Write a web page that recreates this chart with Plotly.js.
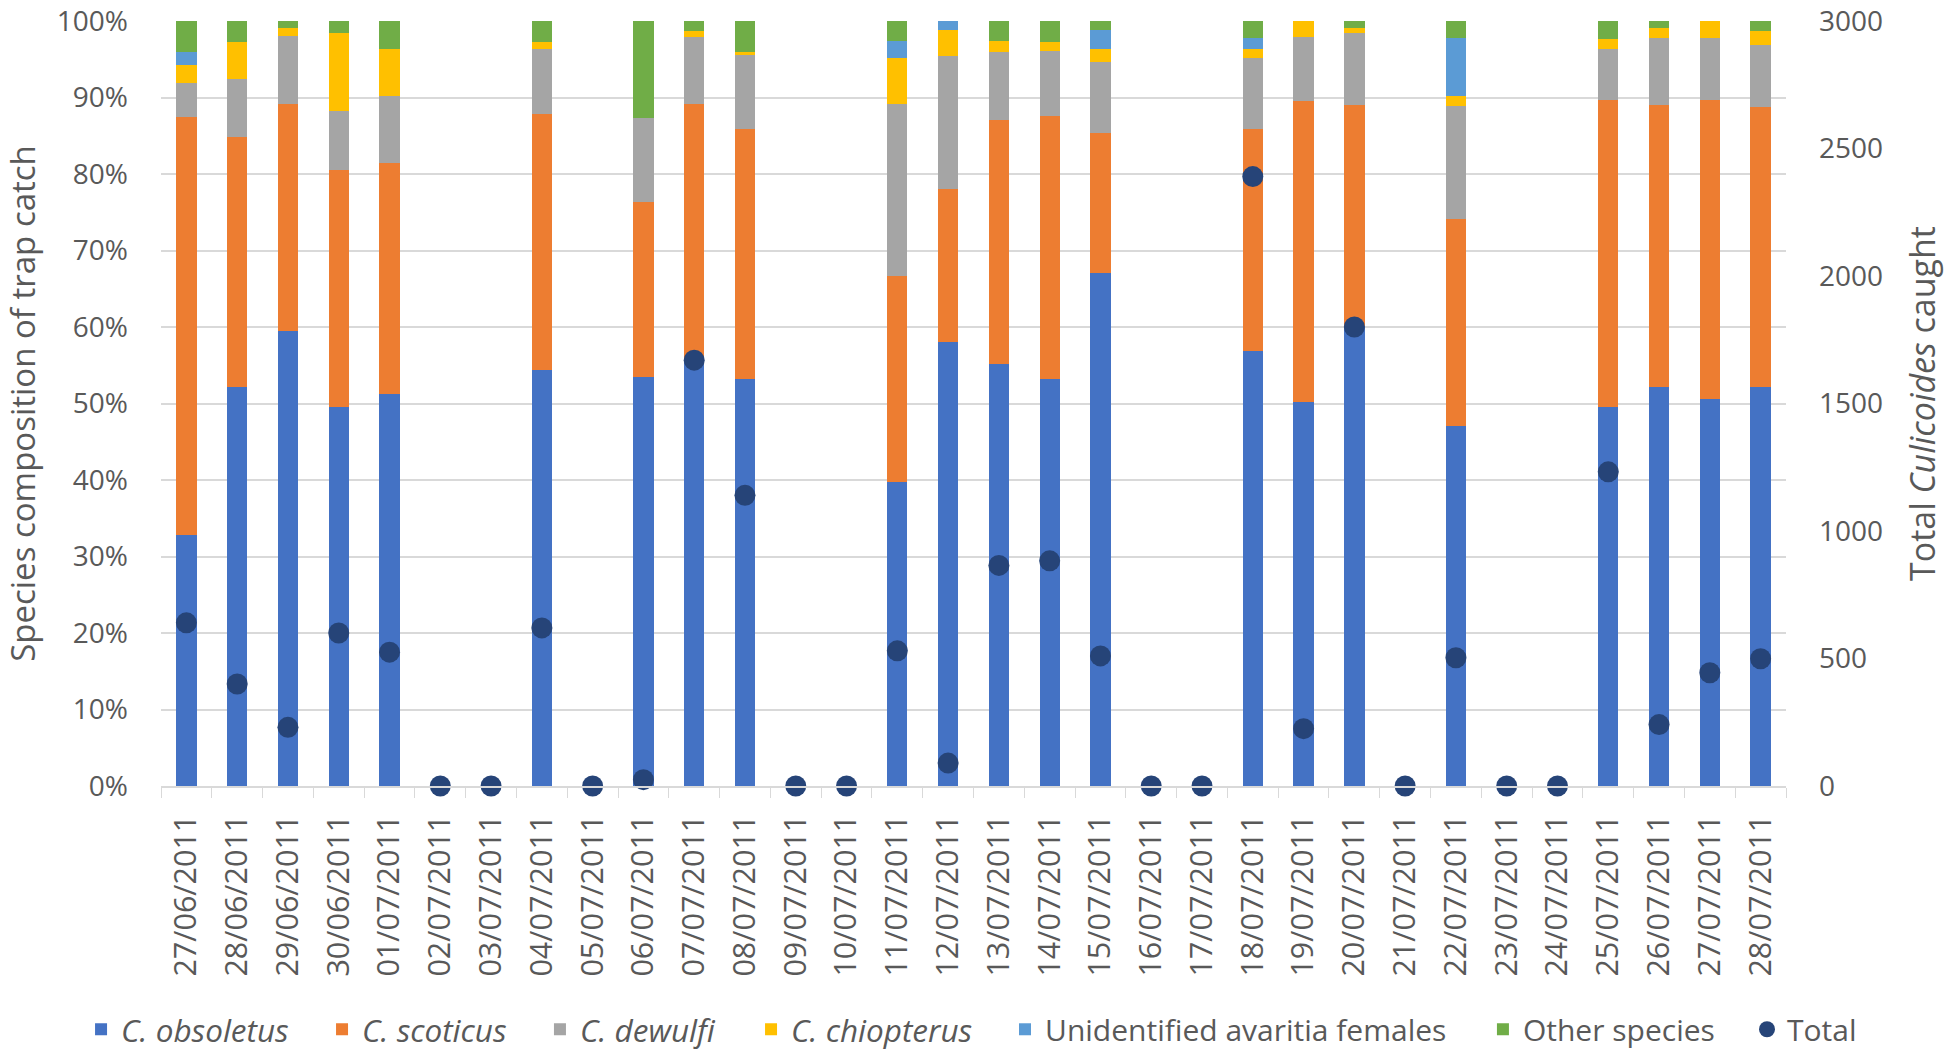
<!DOCTYPE html>
<html>
<head>
<meta charset="utf-8">
<script src="https://cdn.plot.ly/plotly-3.0.1.min.js"></script>
<style>html,body{margin:0;padding:0;background:#fff;}#chart{width:1946px;height:1051px;}</style>
</head>
<body>
<div id="chart"></div>
<script>
// Dates (category labels)
const dates = ["27/06/2011","28/06/2011","29/06/2011","30/06/2011","01/07/2011","02/07/2011","03/07/2011","04/07/2011","05/07/2011","06/07/2011","07/07/2011","08/07/2011","09/07/2011","10/07/2011","11/07/2011","12/07/2011","13/07/2011","14/07/2011","15/07/2011","16/07/2011","17/07/2011","18/07/2011","19/07/2011","20/07/2011","21/07/2011","22/07/2011","23/07/2011","24/07/2011","25/07/2011","26/07/2011","27/07/2011","28/07/2011"];

// Species composition (% of trap catch)
const obsoletus    = [32.8,52.2,59.5,49.5,51.2,0,0,54.4,0,53.5,55.8,53.2,0,0,39.7,58.0,55.2,53.2,67.1,0,0,56.8,50.2,60.1,0,47.1,0,0,49.5,52.2,50.6,52.1];
const scoticus     = [54.6,32.6,29.7,31.0,30.3,0,0,33.5,0,22.8,33.3,32.7,0,0,27.0,20.1,31.9,34.4,18.3,0,0,29.1,39.3,28.9,0,27.0,0,0,40.2,36.8,39.1,36.7];
const dewulfi      = [4.5,7.6,8.9,7.8,8.7,0,0,8.5,0,11.0,8.8,9.7,0,0,22.5,17.3,8.8,8.5,9.3,0,0,9.2,8.4,9.4,0,14.8,0,0,6.7,8.8,8.1,8.1];
const chiopterus   = [2.4,4.8,1.0,10.1,6.2,0,0,0.9,0,0,0.8,0.3,0,0,6.0,3.4,1.5,1.2,1.7,0,0,1.3,2.1,0.7,0,1.3,0,0,1.2,1.3,2.2,1.8];
const unidentified = [1.6,0,0,0,0,0,0,0,0,0,0,0,0,0,2.2,1.2,0,0,2.4,0,0,1.4,0,0,0,7.6,0,0,0,0,0,0];
const other        = [4.1,2.8,0.9,1.6,3.6,0,0,2.7,0,12.7,1.3,4.1,0,0,2.6,0,2.6,2.7,1.2,0,0,2.2,0,0.9,0,2.2,0,0,2.4,0.9,0,1.3];

// Total Culicoides caught
const totals = [640,400,230,600,525,0,0,620,0,25,1670,1140,0,0,530,90,865,883,510,0,0,2390,225,1800,0,503,0,0,1232,241,444,499];

const speciesNames = ["<i>C. obsoletus</i>","<i>C. scoticus</i>","<i>C. dewulfi</i>","<i>C. chiopterus</i>","Unidentified avaritia females","Other species"];
const speciesData = [obsoletus, scoticus, dewulfi, chiopterus, unidentified, other];
const speciesColors = ["#4472C4","#ED7D31","#A5A5A5","#FFC000","#5B9BD5","#70AD47"];

const FONT = "Open Sans, sans-serif";
const TXT = "#595959";

// one legend box per entry so each entry sits where the reference puts it
const legendIds = ["legend","legend2","legend3","legend4","legend5","legend6","legend7"];
const legendX = [-0.0492, 0.0991, 0.2332, 0.3631, 0.5194, 0.8135, 0.9760];
const legendSize = [31.5, 31.5, 31.5, 31.5, 30, 30, 30];

const traces = speciesData.map((vals, i) => ({
  type: "bar",
  name: speciesNames[i],
  x: dates,
  y: vals,
  legend: legendIds[i],
  marker: {color: speciesColors[i], line: {width: 0}},
  width: 0.4
}));

traces.push({
  type: "scatter",
  mode: "markers",
  name: "Total",
  x: dates,
  y: totals,
  yaxis: "y2",
  legend: legendIds[6],
  cliponaxis: false,
  marker: {color: "#264478", size: 21, symbol: "circle"}
});

const layout = {
  width: 1946,
  height: 1051,
  paper_bgcolor: "#ffffff",
  plot_bgcolor: "#ffffff",
  barmode: "stack",
  font: {family: FONT, color: TXT},
  margin: {l: 161, r: 160, t: 21, b: 265, pad: 0, autoexpand: false},
  showlegend: true,
  xaxis: {
    type: "category",
    automargin: false,
    range: [-0.5, 31.5],
    tickangle: -90,
    tickfont: {family: FONT, size: 30.5, color: TXT},
    ticks: "outside",
    tickson: "boundaries",
    ticklen: 10,
    tickcolor: "#d9d9d9",
    showline: true,
    linecolor: "#d9d9d9",
    linewidth: 1.5,
    showgrid: false,
    ticklabelstandoff: 15,
    ticklabeloverflow: "allow",
    fixedrange: true
  },
  yaxis: {
    automargin: false,
    range: [0, 100],
    dtick: 10,
    ticksuffix: "%",
    tickfont: {family: FONT, size: 28, color: TXT},
    showgrid: true,
    gridcolor: "#d9d9d9",
    gridwidth: 2,
    zeroline: false,
    showline: false,
    ticklabelstandoff: 32,
    ticklabeloverflow: "allow",
    title: {text: "Species composition of trap catch", font: {family: FONT, size: 33, color: TXT}, standoff: 29},
    fixedrange: true
  },
  yaxis2: {
    automargin: false,
    overlaying: "y",
    side: "right",
    range: [0, 3000],
    dtick: 500,
    tickfont: {family: FONT, size: 28, color: TXT},
    showgrid: false,
    zeroline: false,
    showline: false,
    ticklabelstandoff: 32,
    ticklabeloverflow: "allow",
    title: {text: "Total <i>Culicoides</i> caught", font: {family: FONT, size: 34, color: TXT}, standoff: 29},
    fixedrange: true
  }
};

legendIds.forEach((id, i) => {
  layout[id] = {
    orientation: "h",
    x: legendX[i], xanchor: "left",
    y: -0.318, yanchor: "middle",
    bgcolor: "rgba(0,0,0,0)",
    font: {family: FONT, size: legendSize[i], color: TXT},
    itemwidth: 30
  };
});

Plotly.newPlot("chart", traces, layout, {displayModeBar: false, staticPlot: true});
</script>
</body>
</html>
